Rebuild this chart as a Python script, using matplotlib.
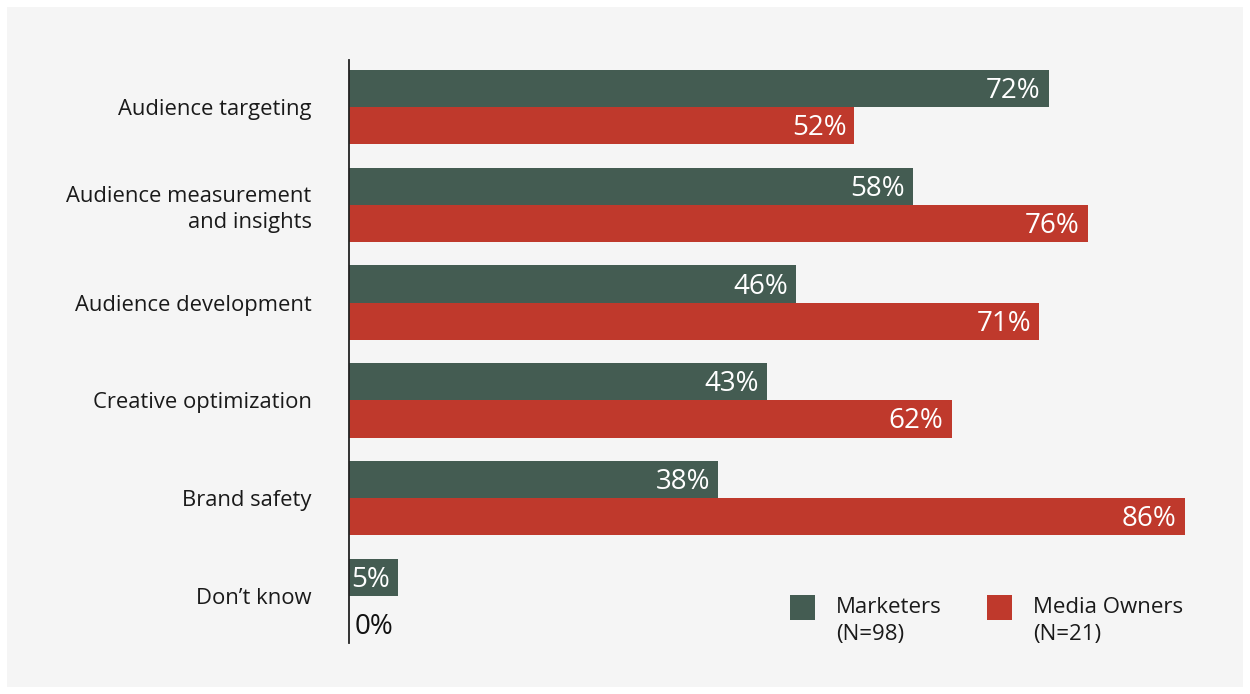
import matplotlib.pyplot as plt
from matplotlib.patches import Rectangle

plt.rcParams['font.family'] = ['Open Sans', 'DejaVu Sans']

# Data
categories = ["Audience targeting", "Audience measurement\nand insights", "Audience development",
              "Creative optimization", "Brand safety", "Don\u2019t know"]
marketers = [72, 58, 46, 43, 38, 5]
media_owners = [52, 76, 71, 62, 86, 0]
legend_labels = ["Marketers\n(N=98)", "Media Owners\n(N=21)"]

green = "#445c52"
red = "#bf392c"
panel = "#f5f5f5"

W, H = 1250, 694
fig = plt.figure(figsize=(W / 100, H / 100), dpi=100)
fig.patch.set_facecolor("white")
fig.patches.append(Rectangle((7 / W, 7 / H), 1236 / W, 680 / H, transform=fig.transFigure,
                             facecolor=panel, edgecolor="none", zorder=-5))

ax = fig.add_axes([349 / W, (H - 643) / H, 894 / W, 583 / H])
ax.set_facecolor("none")

bar_h = 0.38
ypos = list(range(len(categories)))
ax.barh([y - bar_h / 2 for y in ypos], marketers, height=bar_h, color=green, zorder=2)
ax.barh([y + bar_h / 2 for y in ypos], media_owners, height=bar_h, color=red, zorder=2)

ax.set_xlim(0, 894 / 9.72)
ax.set_ylim(len(categories) - 0.52, -0.48)

for y, v in zip(ypos, marketers):
    ax.annotate(f"{v}%", xy=(v, y - bar_h / 2), xytext=(-5.8, -1.8), textcoords="offset points",
                ha="right", va="center", color="white", fontsize=20, zorder=3)
for y, v in zip(ypos, media_owners):
    if v > 0:
        ax.annotate(f"{v}%", xy=(v, y + bar_h / 2), xytext=(-5.8, -1.8), textcoords="offset points",
                    ha="right", va="center", color="white", fontsize=20, zorder=3)
    else:
        ax.annotate(f"{v}%", xy=(v, y + bar_h / 2), xytext=(4, -9), textcoords="offset points",
                    ha="left", va="center", color="#111111", fontsize=20, zorder=3)

ax.set_yticks(ypos)
ax.set_yticklabels(categories, fontsize=15.8, color="#1a1a1a", linespacing=1.28)
ax.tick_params(axis="y", length=0, pad=27)
ax.set_xticks([])
for s in ["top", "right", "bottom"]:
    ax.spines[s].set_visible(False)
ax.spines["left"].set_color("#222222")
ax.spines["left"].set_linewidth(1.3)

# Legend drawn by hand
for (x0, lab, col) in [(790, legend_labels[0], green), (987, legend_labels[1], red)]:
    fig.patches.append(Rectangle((x0 / W, (H - 620) / H), 25 / W, 25 / H, transform=fig.transFigure,
                                 facecolor=col, edgecolor="none", zorder=3))
    fig.text((x0 + 46) / W, (H - 597) / H, lab, ha="left", va="top", fontsize=16,
             color="#1a1a1a", linespacing=1.38)

plt.savefig("out.png", dpi=100)
